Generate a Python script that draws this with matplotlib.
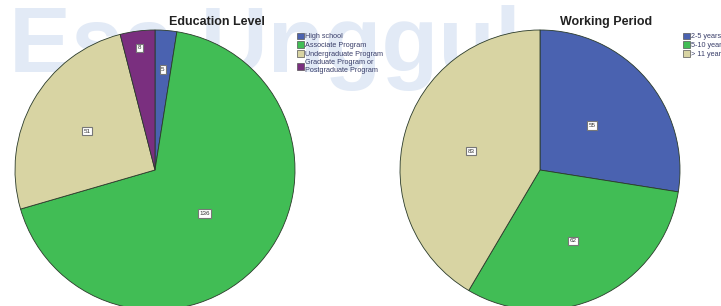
import matplotlib
matplotlib.use("Agg")
import matplotlib.pyplot as plt
from matplotlib.patches import Patch
import numpy as np

plt.rcParams['font.family'] = ['Liberation Sans', 'DejaVu Sans']

# Education level data
edu_labels = ["High school", "Associate Program", "Undergraduate Program",
              "Graduate Program or\nPostgraduate Program"]
edu_values = [5, 136, 51, 8]

# Working period data
work_labels = ["2-5 years", "5-10 years", "> 11 years"]
work_values = [55, 62, 83]

blue = "#4a62b0"
green = "#41bd55"
beige = "#d8d4a3"
purple = "#7a2f7f"
edu_colors = [blue, green, beige, purple]
work_colors = [blue, green, beige]

W, H = 721, 306
fig = plt.figure(figsize=(W / 100, H / 100), dpi=100)

# watermark, behind everything
fig.text(0.012, 1 - 5 / H, "Esa Unggul", fontsize=67, fontweight="bold",
         color="#e2eaf6", ha="left", va="top", zorder=-5)


def pie_axes(cx, cy, r):
    # cx, cy in pixels from top-left
    return fig.add_axes([(cx - r) / W, (H - cy - r) / H, 2 * r / W, 2 * r / H])


def draw_pie(ax, values, colors, label_dist):
    wedges, _ = ax.pie(values, colors=colors, startangle=90, counterclock=False,
                       radius=1.0, wedgeprops=dict(edgecolor="#2a3a2a", linewidth=0.6))
    for w, v, d in zip(wedges, values, label_dist):
        ang = np.deg2rad((w.theta1 + w.theta2) / 2)
        ax.text(d * np.cos(ang), d * np.sin(ang), str(v), fontsize=4.5,
                ha="center", va="center", color="#333333",
                bbox=dict(boxstyle="square,pad=0.25", fc="white", ec="#777777", lw=0.8))
    ax.set_xlim(-1, 1)
    ax.set_ylim(-1, 1)
    ax.set_aspect("equal")
    ax.axis("off")


ax1 = pie_axes(155, 170, 140)
draw_pie(ax1, edu_values, edu_colors, [0.72, 0.47, 0.56, 0.88])

ax2 = pie_axes(540, 170, 140)
draw_pie(ax2, work_values, work_colors, [0.49, 0.56, 0.51])

fig.text(217 / W, 1 - 22 / H, "Education Level", fontsize=9, fontweight="bold",
         ha="center", va="center", color="#222222")
fig.text(606 / W, 1 - 22 / H, "Working Period", fontsize=9, fontweight="bold",
         ha="center", va="center", color="#222222")

leg_kw = dict(frameon=False, fontsize=5.2, handlelength=1.0, handleheight=1.0,
              handletextpad=0.2, labelspacing=0.15, borderpad=0, labelcolor="#3a3f6a")
edu_handles = [Patch(fc=c, ec="#555555", lw=0.5) for c in edu_colors]
fig.legend(edu_handles, edu_labels, loc="upper left",
           bbox_to_anchor=(293 / W, 1 - 29 / H), **leg_kw)
work_handles = [Patch(fc=c, ec="#555555", lw=0.5) for c in work_colors]
fig.legend(work_handles, work_labels, loc="upper left",
           bbox_to_anchor=(679 / W, 1 - 29 / H), **leg_kw)

fig.savefig("out.png", dpi=100)
